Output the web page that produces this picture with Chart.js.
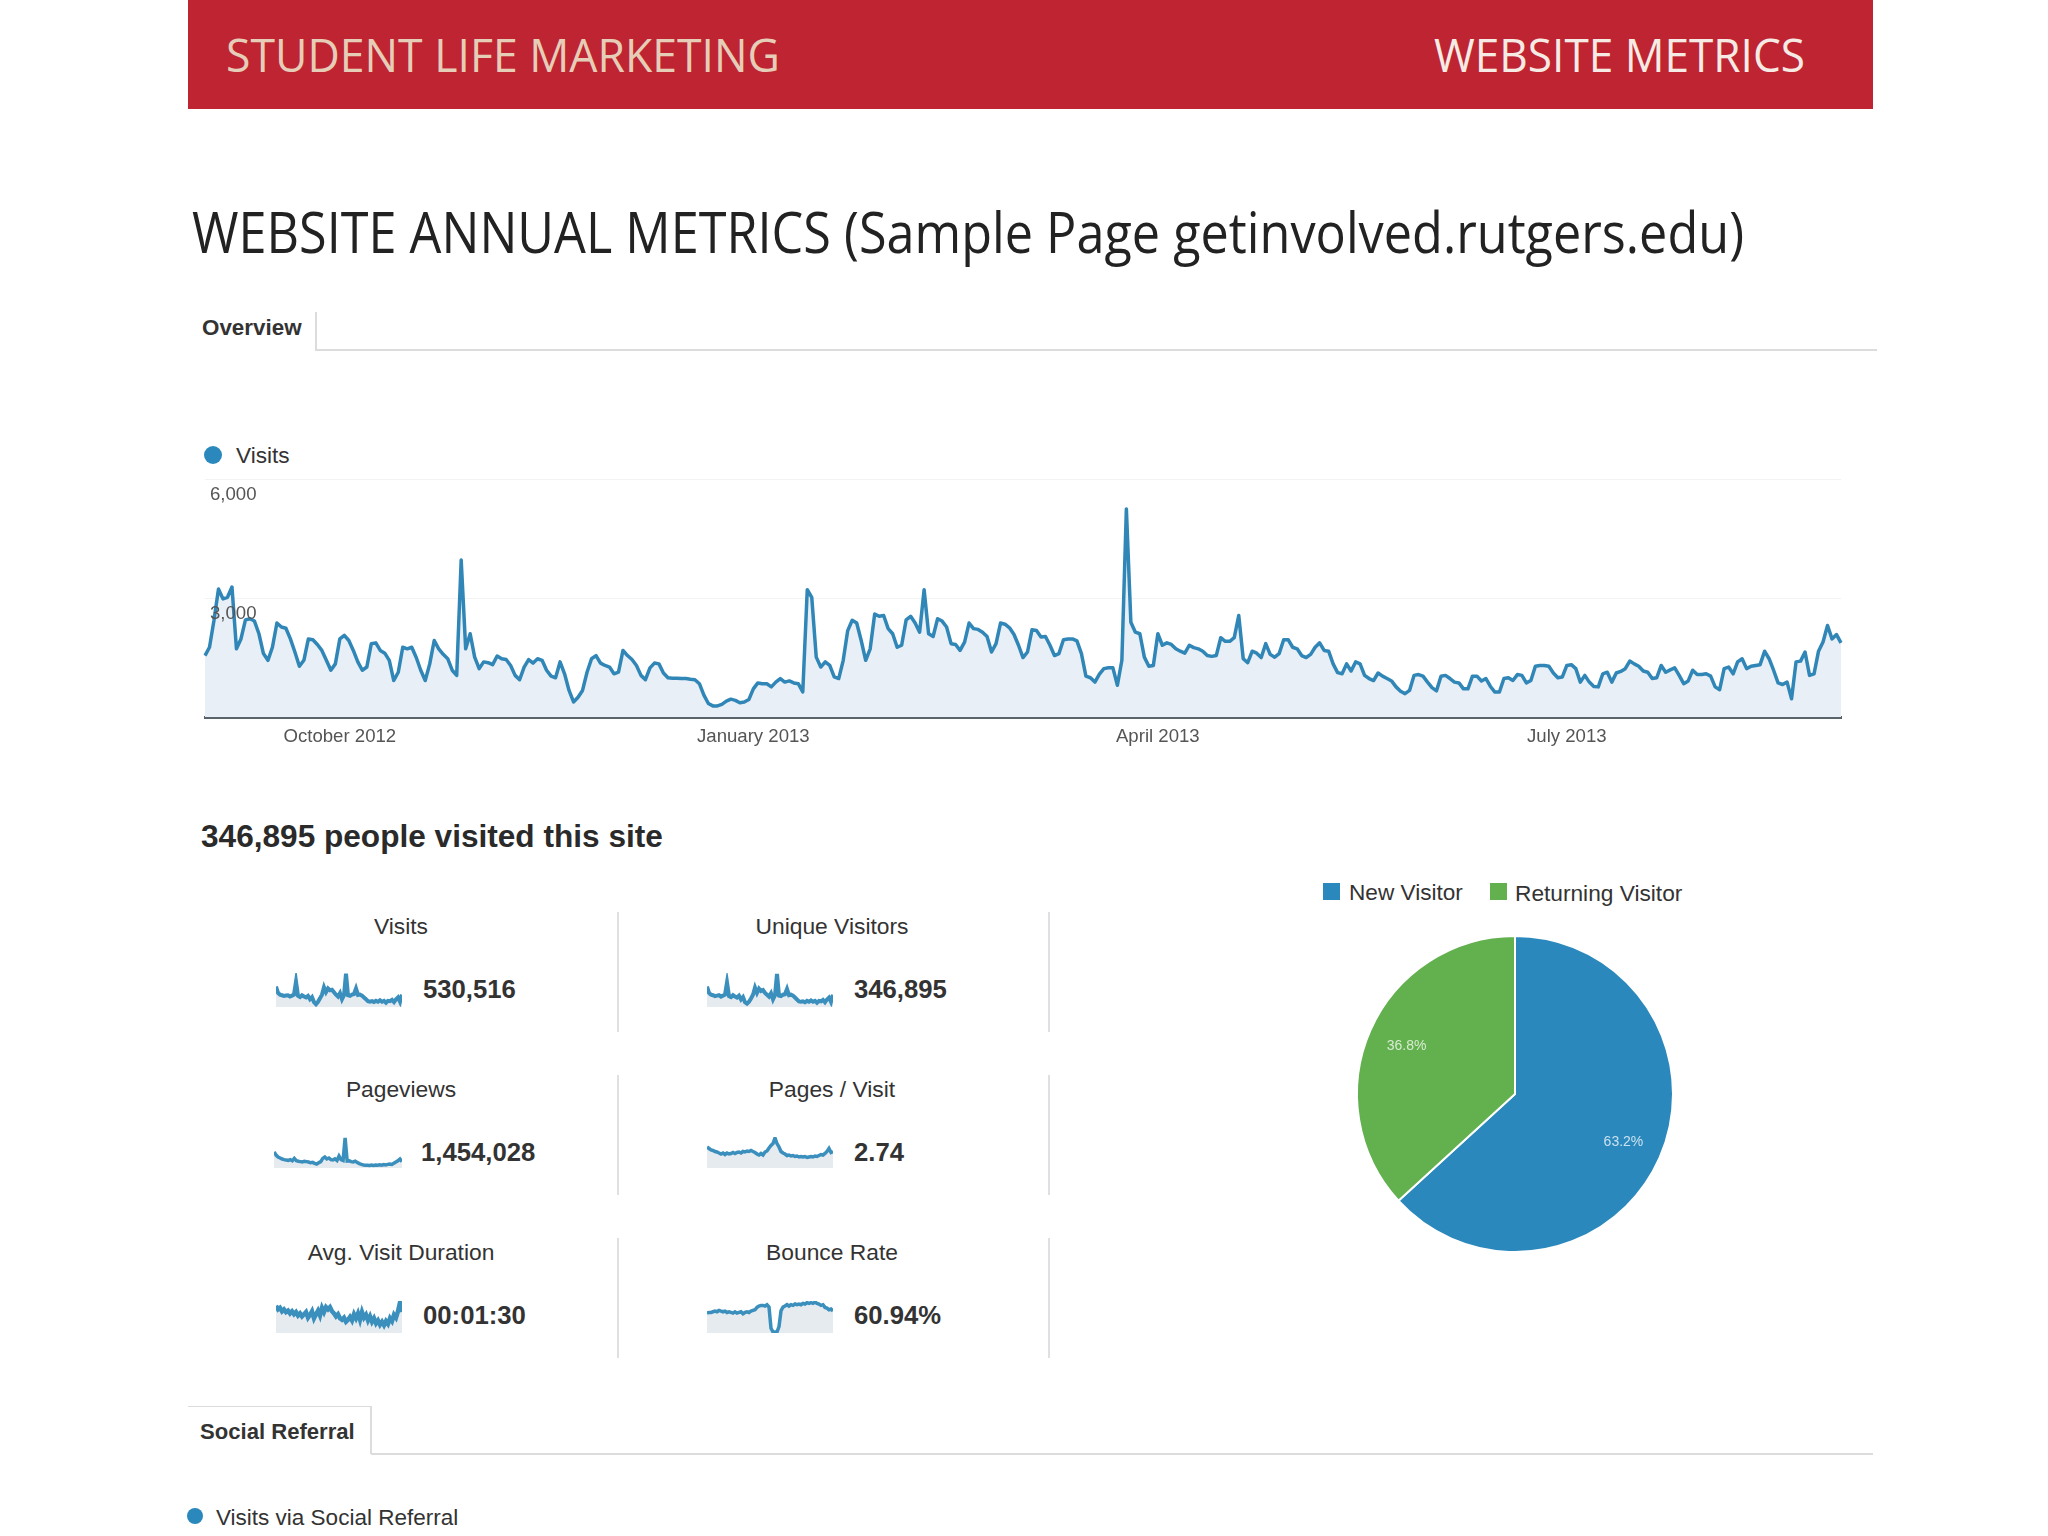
<!DOCTYPE html>
<html>
<head>
<meta charset="utf-8">
<title>Website Metrics</title>
<script src="https://cdn.jsdelivr.net/npm/chart.js@4/dist/chart.umd.min.js"></script>
<style>
    html, body { margin: 0; padding: 0; background: #fff; width: 2048px; height: 1536px; overflow: hidden; }
    body { position: relative; font-family: "Liberation Sans", Arial, sans-serif; color: #333; }
    .t { position: absolute; white-space: nowrap; transform: translateY(-50%); transform-origin: left center; line-height: 1; }
    .c { transform: translate(-50%, -50%); }
    .b { font-weight: bold; }
    .head { font-family: "Open Sans", sans-serif; }
    .box { position: absolute; }
    canvas { position: absolute; }
    .metric-name { font-size: 22.8px; color: #333; }
    .metric-val { font-size: 25.7px; font-weight: bold; color: #333; }
    .rule { position: absolute; width: 2px; height: 120px; background: #e0e0e4; }
</style>
</head>
<body>

<!-- Banner -->
<div class="box" style="left:188px;top:0;width:1685px;height:109px;background:#be2431;"></div>
<div class="t head fit" data-w="554" style="left:226px;top:54px;font-size:46px;color:#e6cdb8;">STUDENT LIFE MARKETING</div>
<div class="t head fit" data-w="371" style="left:1434px;top:54px;font-size:46px;color:#f6ebe4;">WEBSITE METRICS</div>
<div class="t head fit" data-w="1552" style="left:192px;top:231px;font-size:56px;color:#222;">WEBSITE ANNUAL METRICS (Sample Page getinvolved.rutgers.edu)</div>

<!-- Overview tab -->
<div class="t b" style="left:202px;top:328px;font-size:22.4px;color:#333;">Overview</div>
<div class="box" style="left:315px;top:312px;width:2px;height:38px;background:#dcdcdc;"></div>
<div class="box" style="left:315px;top:349px;width:1562px;height:2px;background:#dcdcdc;"></div>

<!-- Main chart legend -->
<div class="box" style="left:204px;top:446px;width:18px;height:18px;border-radius:50%;background:#2b88bd;"></div>
<div class="t" style="left:236px;top:456px;font-size:22.6px;color:#333;">Visits</div>
<canvas id="mainChart" width="1655" height="294" style="left:195px;top:463px;width:1655px;height:294px;"></canvas>

<div class="t b" style="left:201px;top:837px;font-size:31.6px;color:#2a2a2a;">346,895 people visited this site</div>

<!-- Metric tiles -->
<div class="t c metric-name" style="left:401px;top:926px;">Visits</div>
<div class="t c metric-name" style="left:832px;top:926px;">Unique Visitors</div>
<div class="t c metric-name" style="left:401px;top:1089px;">Pageviews</div>
<div class="t c metric-name" style="left:832px;top:1089px;">Pages / Visit</div>
<div class="t c metric-name" style="left:401px;top:1252px;">Avg. Visit Duration</div>
<div class="t c metric-name" style="left:832px;top:1252px;">Bounce Rate</div>

<div class="t metric-val" style="left:423px;top:990px;">530,516</div>
<div class="t metric-val" style="left:854px;top:990px;">346,895</div>
<div class="t metric-val" style="left:421px;top:1153px;">1,454,028</div>
<div class="t metric-val" style="left:854px;top:1153px;">2.74</div>
<div class="t metric-val" style="left:423px;top:1316px;">00:01:30</div>
<div class="t metric-val" style="left:854px;top:1316px;">60.94%</div>

<div class="rule" style="left:617px;top:912px;"></div>
<div class="rule" style="left:1048px;top:912px;"></div>
<div class="rule" style="left:617px;top:1075px;"></div>
<div class="rule" style="left:1048px;top:1075px;"></div>
<div class="rule" style="left:617px;top:1238px;"></div>
<div class="rule" style="left:1048px;top:1238px;"></div>

<canvas id="sparkVisits" width="126" height="34" style="left:276px;top:973px;width:126px;height:34px;"></canvas>
<canvas id="sparkUnique" width="126" height="34" style="left:707px;top:973px;width:126px;height:34px;"></canvas>
<canvas id="sparkPageviews" width="128" height="31" style="left:274px;top:1137px;width:128px;height:31px;"></canvas>
<canvas id="sparkPages" width="126" height="31" style="left:707px;top:1137px;width:126px;height:31px;"></canvas>
<canvas id="sparkDuration" width="126" height="32" style="left:276px;top:1301px;width:126px;height:32px;"></canvas>
<canvas id="sparkBounce" width="126" height="32" style="left:707px;top:1301px;width:126px;height:32px;"></canvas>

<!-- Pie legend -->
<div class="box" style="left:1323px;top:883px;width:17px;height:17px;background:#2b88bd;"></div>
<div class="t" style="left:1349px;top:893px;font-size:22.6px;color:#333;">New Visitor</div>
<div class="box" style="left:1490px;top:883px;width:17px;height:17px;background:#62b04e;"></div>
<div class="t" style="left:1515px;top:893px;font-size:22.7px;color:#333;">Returning Visitor</div>
<canvas id="pieChart" width="330" height="330" style="left:1350px;top:929px;width:330px;height:330px;"></canvas>

<!-- Social referral tab -->
<div class="box" style="left:188px;top:1406px;width:183px;height:1px;background:#dcdcdc;"></div>
<div class="box" style="left:370px;top:1406px;width:2px;height:48px;background:#dcdcdc;"></div>
<div class="box" style="left:371px;top:1453px;width:1502px;height:2px;background:#dcdcdc;"></div>
<div class="t b" style="left:200px;top:1432px;font-size:22.1px;color:#333;">Social Referral</div>
<div class="box" style="left:187px;top:1508px;width:16px;height:16px;border-radius:50%;background:#2b88bd;"></div>
<div class="t" style="left:216px;top:1518px;font-size:22.5px;color:#333;">Visits via Social Referral</div>

<script>
// Daily visits, 1 Sep 2012 - 31 Aug 2013
const visits = [
    1550, 1760, 2440, 3230, 2980, 3020, 3280, 1720, 1970, 2450, 2480, 2420, 2100, 1600, 1430, 1760, 2370, 2270, 2240, 1970,
    1640, 1280, 1430, 1970, 1950, 1830, 1680, 1430, 1180, 1340, 1970, 2060, 1930, 1680, 1390, 1180, 1260, 1850, 1870, 1680,
    1610, 1430, 920, 1130, 1760, 1720, 1760, 1500, 1180, 920, 1340, 1930, 1720, 1580, 1470, 1180, 1050, 3960, 1720, 2100,
    1510, 1220, 1390, 1370, 1320, 1540, 1470, 1450, 1300, 1050, 940, 1260, 1450, 1360, 1470, 1430, 1180, 1030, 990, 1390,
    1090, 670, 380, 500, 670, 1130, 1470, 1550, 1360, 1300, 1260, 1090, 1130, 1680, 1550, 1450, 1300, 1050, 940, 1240,
    1360, 1340, 1110, 990, 980, 980, 970, 970, 950, 940, 840, 550, 340, 280, 280, 320, 400, 450, 420, 360,
    380, 440, 710, 860, 840, 840, 760, 880, 970, 880, 910, 860, 840, 630, 3210, 3020, 1510, 1260, 1390, 1300,
    1010, 970, 1430, 2180, 2440, 2370, 1930, 1430, 1720, 2600, 2540, 2560, 2230, 2100, 1760, 1810, 2450, 2540, 2370, 2140,
    3210, 2100, 2030, 2480, 2420, 2270, 1850, 1830, 1680, 1890, 2370, 2230, 2210, 2140, 2030, 1640, 1850, 2370, 2340, 2250,
    2080, 1810, 1500, 1640, 2200, 2180, 2020, 2030, 1810, 1550, 1600, 1950, 1970, 1970, 1920, 1600, 1030, 990, 880, 1080,
    1220, 1240, 1240, 800, 1430, 5250, 2390, 2140, 2100, 1510, 1280, 1300, 2100, 1810, 1870, 1830, 1720, 1660, 1610, 1810,
    1750, 1720, 1660, 1550, 1530, 1550, 2000, 1910, 1910, 2000, 2560, 1470, 1370, 1660, 1610, 1500, 1850, 1580, 1510, 1600,
    1950, 1950, 1760, 1720, 1550, 1500, 1580, 1760, 1870, 1680, 1660, 1340, 1120, 1090, 1340, 1160, 1390, 1340, 1050, 970,
    920, 1110, 1030, 970, 910, 760, 650, 590, 670, 1050, 1070, 1030, 880, 740, 660, 1030, 1050, 970, 880, 860,
    710, 710, 1030, 1030, 910, 970, 770, 630, 630, 970, 990, 920, 1070, 1050, 860, 920, 1280, 1300, 1300, 1280,
    1110, 990, 1010, 1300, 1320, 1220, 880, 1050, 880, 770, 760, 1090, 1130, 880, 1110, 1150, 1220, 1410, 1340, 1280,
    1160, 1130, 970, 990, 1300, 1130, 1190, 1240, 1050, 840, 910, 1180, 1070, 1070, 1090, 1030, 760, 690, 1220, 1260,
    1090, 1390, 1470, 1220, 1280, 1300, 1320, 1660, 1470, 1180, 860, 820, 880, 460, 1390, 1410, 1640, 1050, 1090, 1660,
    1890, 2310, 1970, 2080, 1870
];
const monthDayIndexes = [30, 122, 212, 303];
const monthLabels = ['October 2012', 'January 2013', 'April 2013', 'July 2013'];
const visitTicks = [0, 3000, 6000];

// Overview sparklines
const visitsSpark = [3300, 2300, 2000, 1900, 1800, 1850, 1900, 1700, 1850, 2000, 4100, 1800, 1600, 1900, 1700, 1550, 1800, 1250, 1600, 800, 450, 850, 1400, 2000, 3200, 2400, 3000, 2700, 2800, 2400, 2000, 1700, 2250, 1250, 1900, 5400, 1900, 1800, 2000, 2100, 3000, 1950, 2000, 1850, 1550, 1250, 950, 850, 950, 800, 1000, 850, 1100, 850, 1000, 700, 1000, 950, 1150, 800, 1250, 1550, 850, 2000];
const uniqueVisitors = [2160, 1500, 1300, 1250, 1150, 1200, 1250, 1100, 1200, 1300, 2600, 1150, 1050, 1250, 1100, 1000, 1200, 800, 1050, 500, 350, 550, 900, 1300, 2050, 1500, 1950, 1700, 1800, 1500, 1300, 1100, 1450, 800, 1250, 3500, 1200, 1150, 1300, 1350, 1900, 1250, 1300, 1200, 1000, 800, 600, 550, 600, 500, 650, 550, 700, 550, 650, 450, 650, 600, 750, 500, 800, 1000, 550, 1300];
const pageviews = [8000, 6500, 5500, 5000, 4500, 4200, 4000, 3800, 4200, 3600, 4800, 3700, 3400, 3200, 3000, 3400, 3200, 3000, 2600, 2800, 2300, 2000, 2600, 3200, 4800, 5500, 4500, 5000, 4200, 4000, 4600, 3800, 6000, 4200, 3800, 15000, 3500, 3600, 3200, 3000, 3400, 2800, 2200, 1800, 1500, 1400, 1400, 1300, 1500, 1300, 1500, 1400, 1600, 1400, 1700, 1500, 1800, 2000, 1800, 2400, 3000, 3600, 4500, 3200];
const pagesPerVisit = [4.2, 3.9, 3.6, 3.5, 3.3, 3.2, 3.0, 2.8, 3.0, 2.7, 3.0, 2.8, 2.9, 3.1, 2.9, 3.1, 3.2, 3.0, 3.3, 3.2, 3.4, 3.3, 3.5, 3.3, 3.1, 2.8, 2.6, 2.9, 2.6, 3.2, 3.4, 4.0, 4.5, 4.9, 6.0, 4.9, 4.2, 3.3, 3.0, 2.8, 2.5, 2.6, 2.4, 2.5, 2.3, 2.4, 2.2, 2.3, 2.2, 2.3, 2.1, 2.2, 2.3, 2.2, 2.4, 2.3, 2.5, 2.7, 2.6, 2.9, 3.3, 3.9, 3.1, 3.3];
const visitDuration = [140, 122, 130, 112, 122, 108, 115, 101, 112, 97, 108, 90, 101, 86, 97, 108, 79, 94, 112, 76, 97, 115, 90, 130, 108, 133, 122, 133, 112, 101, 86, 97, 76, 68, 79, 58, 68, 83, 65, 97, 76, 101, 68, 108, 79, 94, 65, 86, 58, 76, 50, 65, 43, 58, 40, 61, 47, 76, 61, 94, 79, 112, 158, 108];
const bounceRate = [59, 61, 61, 63, 65, 63, 67, 65, 63, 65, 61, 63, 61, 59, 63, 59, 61, 63, 57, 61, 63, 61, 65, 67, 69, 76, 80, 82, 82, 80, 84, 77, 14, 3, 3, 3, 19, 66, 77, 80, 84, 80, 84, 82, 86, 84, 86, 84, 88, 86, 90, 88, 90, 88, 92, 88, 86, 82, 84, 76, 74, 69, 71, 65];

// Visitor split
const visitorTypes = ['New Visitor', 'Returning Visitor'];
const visitorShares = [63.2, 36.8];
const visitorColors = ['#2b88bd', '#62b04e'];

const LINE_COLOR = '#3086b6';
const FILL_COLOR = '#e9eff6';
const TICK_FONT = { family: '"Liberation Sans", Arial, sans-serif', size: 18.6 };

// Stretch the banner and title text to the width measured on the reference
document.querySelectorAll('.fit').forEach(el => {
    const ancho = el.getBoundingClientRect().width;
    el.style.transform = `translateY(-50%) scaleX(${el.dataset.w / ancho})`;
});

Chart.defaults.animation = false;
Chart.defaults.responsive = false;
Chart.defaults.plugins.legend.display = false;
Chart.defaults.plugins.tooltip.enabled = false;

// ==========================================
// MAIN CHART
// ==========================================
new Chart(document.getElementById('mainChart'), {
    type: 'line',
    data: {
        labels: visits.map((_, i) => i),
        datasets: [{
            data: visits,
            borderColor: LINE_COLOR,
            backgroundColor: FILL_COLOR,
            borderWidth: 3.5,
            fill: 'origin',
            pointRadius: 0,
            tension: 0,
            borderJoinStyle: 'round'
        }]
    },
    options: {
        layout: { padding: { top: 2 } },
        scales: {
            x: {
                grid: { display: false, drawTicks: false },
                border: { display: true, color: '#59636b', width: 3 },
                afterFit: scale => { scale.height = 40; },
                ticks: {
                    autoSkip: false,
                    maxRotation: 0,
                    padding: 9,
                    color: '#555',
                    font: TICK_FONT,
                    callback: (value, i) => {
                        const pos = monthDayIndexes.indexOf(i);
                        return pos >= 0 ? monthLabels[pos] : '';
                    }
                }
            },
            y: {
                min: 0,
                max: 6000,
                afterBuildTicks: scale => { scale.ticks = visitTicks.map(value => ({ value })); },
                grid: { color: '#f3f3f3', drawTicks: false },
                border: { display: false },
                ticks: {
                    mirror: true,
                    z: 1,
                    padding: 5,
                    labelOffset: 16,
                    color: '#555',
                    font: TICK_FONT,
                    callback: value => value === 0 ? '' : value.toLocaleString('en-US')
                }
            }
        }
    }
});

// ==========================================
// SPARKLINES
// ==========================================
function sparkline(id, valores, maximo, grosor) {
    new Chart(document.getElementById(id), {
        type: 'line',
        data: {
            labels: valores.map((_, i) => i),
            datasets: [{
                data: valores,
                borderColor: '#3b8fbd',
                backgroundColor: '#e6ebf0',
                borderWidth: grosor,
                fill: 'origin',
                pointRadius: 0,
                tension: 0
            }]
        },
        options: {
            scales: {
                x: { display: false },
                y: { display: false, min: 0, max: maximo }
            }
        }
    });
}

sparkline('sparkVisits', visitsSpark, 5500, 4);
sparkline('sparkUnique', uniqueVisitors, 3600, 4);
sparkline('sparkPageviews', pageviews, 15500, 3.5);
sparkline('sparkPages', pagesPerVisit, 6.2, 3.5);
sparkline('sparkDuration', visitDuration, 165, 4.5);
sparkline('sparkBounce', bounceRate, 95, 3.5);

// ==========================================
// PIE CHART
// ==========================================
const etiquetasPie = {
    id: 'etiquetasPie',
    afterDatasetsDraw(chart) {
        const { ctx } = chart;
        chart.getDatasetMeta(0).data.forEach((arc, i) => {
            const { x, y, startAngle, endAngle, outerRadius } = arc.getProps(['x', 'y', 'startAngle', 'endAngle', 'outerRadius']);
            const medio = (startAngle + endAngle) / 2;
            ctx.save();
            ctx.font = '14px "Liberation Sans", Arial, sans-serif';
            ctx.fillStyle = 'rgba(255,255,255,0.75)';
            ctx.textAlign = 'center';
            ctx.textBaseline = 'middle';
            ctx.fillText(visitorShares[i].toFixed(1) + '%', x + Math.cos(medio) * outerRadius * 0.75, y + Math.sin(medio) * outerRadius * 0.75);
            ctx.restore();
        });
    }
};

new Chart(document.getElementById('pieChart'), {
    type: 'pie',
    data: {
        labels: visitorTypes,
        datasets: [{
            data: visitorShares,
            backgroundColor: visitorColors,
            borderColor: '#fff',
            borderWidth: 2
        }]
    },
    options: {
        layout: { padding: 6 }
    },
    plugins: [etiquetasPie]
});
</script>
</body>
</html>
